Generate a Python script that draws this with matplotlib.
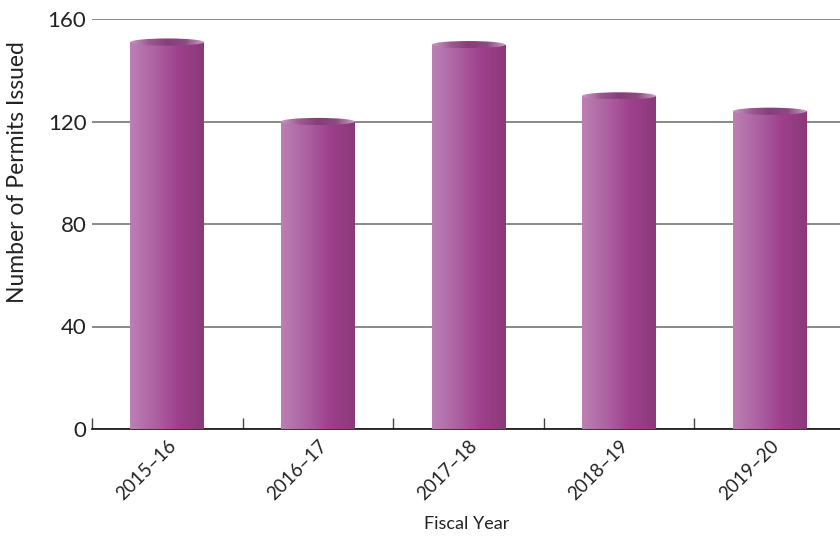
import numpy as np
import matplotlib
matplotlib.use("Agg")
import matplotlib.pyplot as plt
from matplotlib.patches import Ellipse
from matplotlib.colors import LinearSegmentedColormap

categories = ["2015–16", "2016–17", "2017–18", "2018–19", "2019–20"]
permits = [151, 120, 150, 130, 124]
yticks = [0, 40, 80, 120, 160]

plt.rcParams['font.family'] = ['Lato', 'DejaVu Sans']

W, H = 840, 539
fig = plt.figure(figsize=(W / 100, H / 100), dpi=100)
x0, x1, y0, y1 = 92, 845, 19, 429
ax = fig.add_axes([x0 / W, 1 - y1 / H, (x1 - x0) / W, (y1 - y0) / H])

x = np.arange(len(categories))
width = 0.49
bars = ax.bar(x, permits, width, color='none', edgecolor='none', zorder=3)

body_cmap = LinearSegmentedColormap.from_list(
    "body", ["#bb80b3", "#ad62a2", "#9e3f8c", "#8a3a79"], N=256)
top_cmap = LinearSegmentedColormap.from_list(
    "top", ["#c59bbf", "#9c5a91", "#873d7a", "#8e4a83", "#c9a3c3"], N=256)
grad = np.linspace(0, 1, 256).reshape(1, -1)

ax.set_xlim(-0.5, len(categories) - 0.5)
ax.set_ylim(0, 160)

ell_h = 2.8
for b, v in zip(bars, permits):
    bx = b.get_x()
    bw = b.get_width()
    im = ax.imshow(grad, cmap=body_cmap, aspect='auto',
                   extent=(bx, bx + bw, 0, v), zorder=3, interpolation='bilinear')
    im.set_clip_path(b)
    e = Ellipse((bx + bw / 2, v), bw, ell_h, facecolor='none', edgecolor='none', zorder=4)
    ax.add_patch(e)
    im2 = ax.imshow(grad, cmap=top_cmap, aspect='auto',
                    extent=(bx, bx + bw, v - ell_h / 2, v + ell_h / 2), zorder=4,
                    interpolation='bilinear')
    im2.set_clip_path(e)

ax.set_xlim(-0.5, len(categories) - 0.5)
ax.set_ylim(0, 160)

ax.set_yticks(yticks)
ax.set_yticklabels([str(t) for t in yticks], fontsize=16, color='#222222')
ax.tick_params(axis='y', length=0, pad=4)
ax.yaxis.grid(True, color='#6a6a6a', linewidth=1.1, zorder=1)
ax.set_axisbelow(True)

ax.set_xticks(x)
ax.set_xticklabels(categories, rotation=45, ha='right', rotation_mode='anchor',
                   fontsize=13.5, color='#222222')
ax.tick_params(axis='x', which='major', length=0, pad=6)
ax.set_xticks(np.arange(-0.5, len(categories), 1), minor=True)
ax.tick_params(axis='x', which='minor', direction='in', length=8, width=1, color='#444444')

for s in ['top', 'right', 'left']:
    ax.spines[s].set_visible(False)
ax.spines['bottom'].set_color('#111111')
ax.spines['bottom'].set_linewidth(1.2)

fig.text(467 / W, 1 - 524 / H, "Fiscal Year", ha='center', va='center', fontsize=13, color='#222222')
fig.text(18 / W, 1 - 172 / H, "Number of Permits Issued", rotation=90, ha='center',
         va='center', fontsize=16.5, color='#222222')

fig.savefig("out.png", dpi=100)
